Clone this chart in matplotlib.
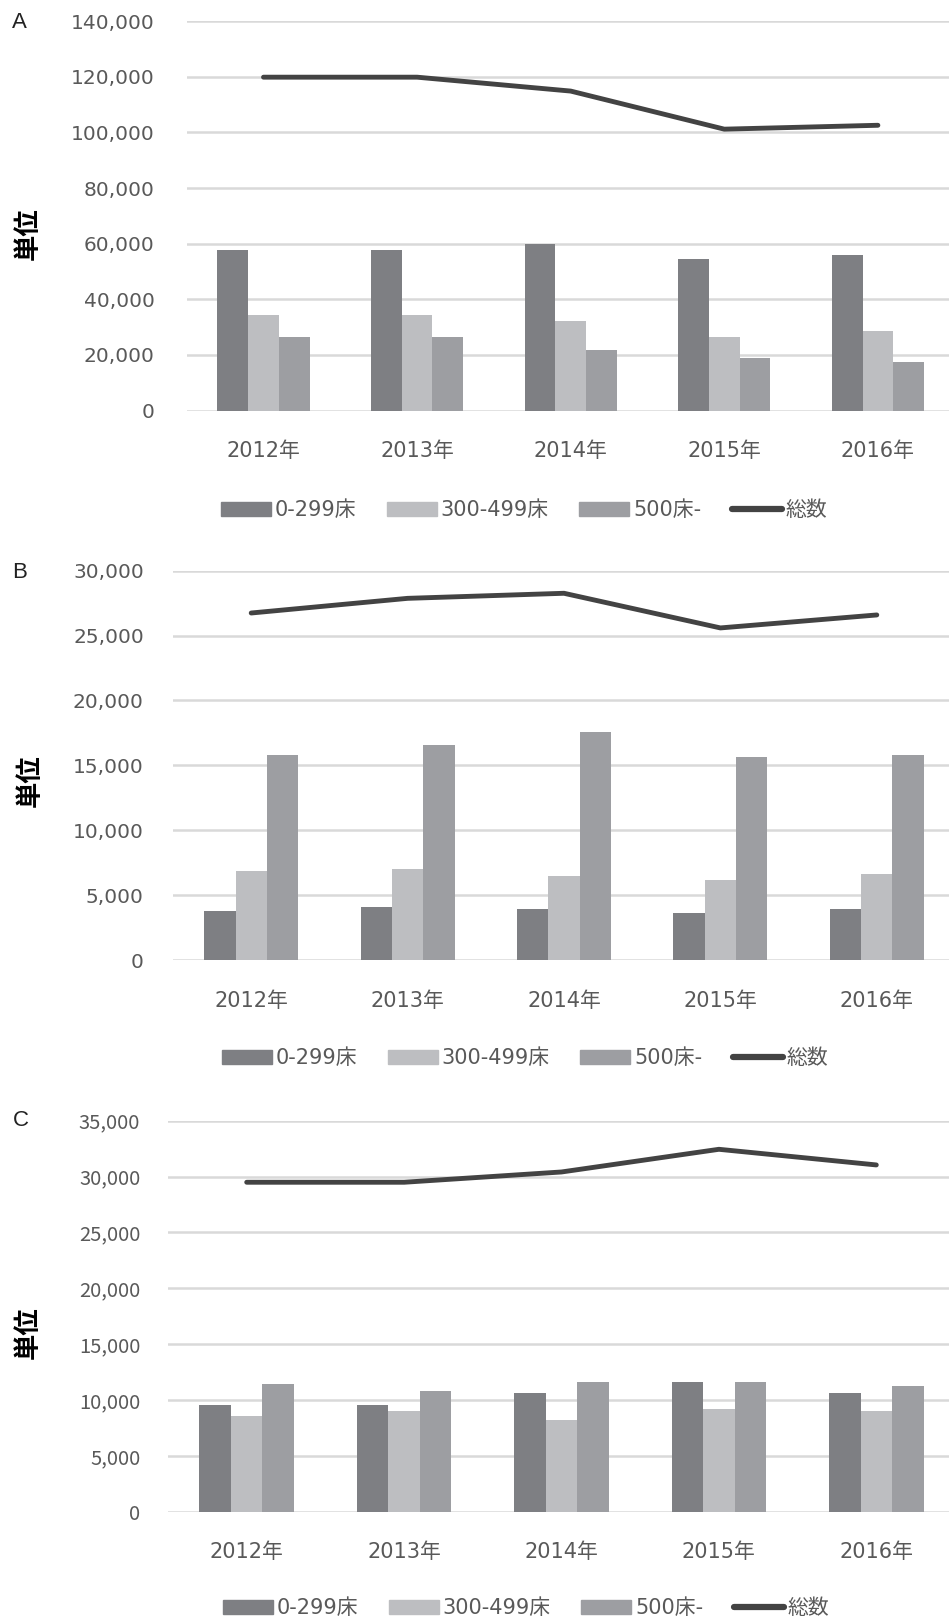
"""
Bed-size breakdown by year, three stacked panels (A, B, C).
Bars per bed-size group, line for the overall total.
"""
import matplotlib
matplotlib.use("Agg")
import matplotlib.pyplot as plt
from matplotlib.patches import Patch
from matplotlib.lines import Line2D

WIDE = ['DejaVu Sans', 'Noto Sans CJK JP']
NARROW = ['Noto Sans CJK JP', 'DejaVu Sans']
plt.rcParams['font.family'] = WIDE

years = ['2012年', '2013年', '2014年', '2015年', '2016年']
series_names = ['0-299床', '300-499床', '500床-', '総数']

# panel A
a_small = [57700, 57700, 59800, 54400, 55800]
a_mid = [34200, 34200, 32100, 26500, 28500]
a_large = [26500, 26500, 21700, 18800, 17600]
a_total = [119900, 119900, 114900, 101200, 102600]

# panel B
b_small = [3780, 4060, 3900, 3620, 3900]
b_mid = [6880, 7010, 6450, 6140, 6600]
b_large = [15800, 16550, 17600, 15650, 15800]
b_total = [26740, 27870, 28260, 25590, 26590]

# panel C
c_small = [9550, 9550, 10600, 11610, 10600]
c_mid = [8540, 9040, 8180, 9190, 9040]
c_large = [11460, 10780, 11610, 11610, 11280]
c_total = [29490, 29490, 30410, 32440, 31040]

BAR_COLORS = ['#7e7f83', '#bdbec1', '#9d9ea2']
LINE_COLOR = '#434343'
GRID_COLOR = '#d9d9d9'
TEXT_COLOR = '#595959'

W, H = 949, 1620
fig = plt.figure(figsize=(W / 100, H / 100), dpi=100)


def px_axes(left, top, right, bottom):
    """Add an axes given pixel edges measured from the top-left corner."""
    return fig.add_axes([left / W, 1 - bottom / H, (right - left) / W, (bottom - top) / H])


def panel(ax, bars, total, ymax, ystep, ypad, ytick_family, letter, letter_xy, ylabel_xy, legend_xy):
    x = list(range(len(years)))
    width = 0.2
    for i, (vals, color) in enumerate(zip(bars, BAR_COLORS)):
        ax.bar([xi + (i - 1) * width for xi in x], vals, width=width, color=color, zorder=2)
    ax.plot(x, total, color=LINE_COLOR, lw=3.5, solid_capstyle='round',
            solid_joinstyle='round', zorder=3)

    ax.set_xlim(-0.5, len(years) - 0.5)
    ax.set_ylim(0, ymax)
    ticks = list(range(0, ymax + 1, ystep))
    ax.set_yticks(ticks)
    ax.set_yticklabels([f'{v:,}' for v in ticks], family=ytick_family)
    ax.set_xticks(x)
    ax.set_xticklabels(years)
    ax.tick_params(axis='y', length=0, pad=ypad, labelsize=14.5, labelcolor=TEXT_COLOR)
    ax.tick_params(axis='x', length=0, pad=22, labelsize=15, labelcolor=TEXT_COLOR)
    ax.grid(axis='y', color=GRID_COLOR, lw=1.8, zorder=0)
    ax.set_axisbelow(True)
    for s in ax.spines.values():
        s.set_visible(False)

    fig.text(letter_xy[0] / W, 1 - letter_xy[1] / H, letter, fontsize=16,
             family=['Liberation Sans', 'DejaVu Sans'], ha='left', va='center', color='#222222')
    fig.text(ylabel_xy[0] / W, 1 - ylabel_xy[1] / H, '単位', fontsize=19, fontweight='bold',
             family=NARROW, rotation=90, ha='center', va='center', color='black')

    handles = [Patch(color=c) for c in BAR_COLORS]
    handles.append(Line2D([0], [0], color=LINE_COLOR, lw=4.5, solid_capstyle='round'))
    fig.legend(handles, series_names, loc='center', ncol=4, frameon=False,
               bbox_to_anchor=(legend_xy[0] / W, 1 - legend_xy[1] / H),
               fontsize=15, labelcolor=TEXT_COLOR, handlelength=2.4,
               handleheight=0.67, handletextpad=0.2, columnspacing=1.45)


ax_a = px_axes(186.7, 21.3, 954.7, 410.5)
panel(ax_a, [a_small, a_mid, a_large], a_total, 140000, 20000, 23, WIDE,
      'A', (12, 22), (28, 234), (524, 510))

ax_b = px_axes(173, 570.7, 955, 960)
panel(ax_b, [b_small, b_mid, b_large], b_total, 30000, 5000, 21, WIDE,
      'B', (12, 573), (30, 781), (525, 1058))

ax_c = px_axes(168, 1120.7, 955, 1511.7)
panel(ax_c, [c_small, c_mid, c_large], c_total, 35000, 5000, 20, NARROW,
      'C', (13, 1121), (28, 1333), (526, 1608))

fig.savefig('out.png', dpi=100)
